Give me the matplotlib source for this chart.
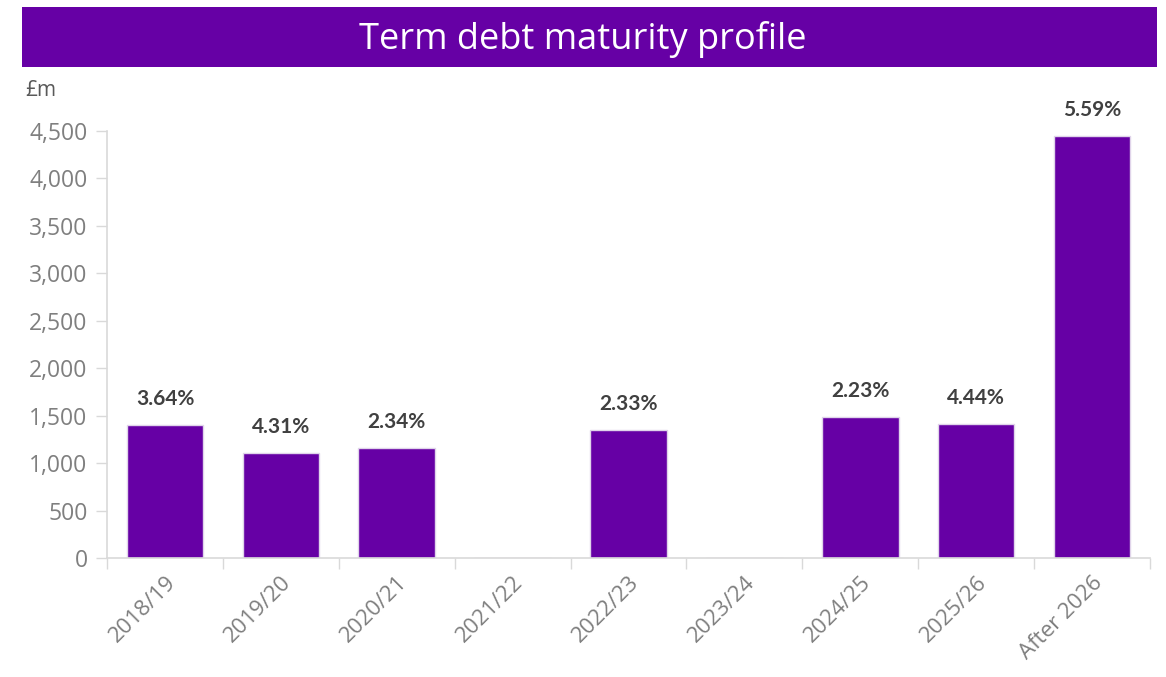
import numpy as np
import matplotlib.pyplot as plt
from matplotlib.patches import Rectangle

# Term debt maturing per year (GBP m) and average coupon labels
periods = ['2018/19', '2019/20', '2020/21', '2021/22', '2022/23',
           '2023/24', '2024/25', '2025/26', 'After 2026']
amounts = [1400, 1105, 1160, 0, 1350, 0, 1485, 1410, 4450]
rates = ['3.64%', '4.31%', '2.34%', '', '2.33%', '', '2.23%', '4.44%', '5.59%']
yticks = [0, 500, 1000, 1500, 2000, 2500, 3000, 3500, 4000, 4500]

purple = '#6600A5'
grey_txt = '#7f7f7f'
grid_c = '#d9d9d9'

plt.rcParams['font.family'] = ['Open Sans', 'DejaVu Sans']

fig = plt.figure(figsize=(11.66, 6.77), dpi=100)

# title banner
fig.patches.append(Rectangle((22 / 1166, 1 - 67 / 677), 1135 / 1166, 60 / 677,
                             transform=fig.transFigure, facecolor=purple,
                             edgecolor='none', zorder=0))
fig.text(0.5, 1 - 39 / 677, 'Term debt maturity profile', color='white',
         fontsize=26, ha='center', va='center', fontweight='normal')

ax = fig.add_axes([107 / 1166, 1 - 558 / 677, 1043 / 1166, 427 / 677])
x = np.arange(len(periods))
ax.bar(x, amounts, width=0.66, color=purple, edgecolor='#e0d4ea', linewidth=1)

for xi, v, r in zip(x, amounts, rates):
    if r:
        ax.text(xi, v + 170, r, ha='center', va='bottom', fontsize=15,
                color='#404040', family=['Lato', 'DejaVu Sans'], fontweight='bold')

ax.set_xlim(-0.5, len(periods) - 0.5)
ax.set_ylim(0, 4500)
ax.set_yticks(yticks)
ax.set_yticklabels([f'{t:,}' for t in yticks], fontsize=16.5, color=grey_txt)

# category boundary ticks on the x axis
ax.set_xticks(np.arange(-0.5, len(periods)), minor=False)
ax.set_xticklabels([])
ax.set_xticks(x, minor=True)
ax.set_xticklabels(periods, minor=True, rotation=45, ha='right',
                   rotation_mode='anchor', fontsize=16, color=grey_txt)
ax.tick_params(axis='x', which='major', length=8, color=grid_c, width=1)
ax.tick_params(axis='x', which='minor', length=0, pad=10)
ax.tick_params(axis='y', length=8, color=grid_c, width=1, pad=6)

for s in ['top', 'right']:
    ax.spines[s].set_visible(False)
for s in ['left', 'bottom']:
    ax.spines[s].set_color(grid_c)
    ax.spines[s].set_linewidth(1.2)

fig.text(25 / 1166, 1 - 91 / 677, '£m', fontsize=15, color='#595959',
         ha='left', va='center')

plt.savefig('out.png', dpi=100)
